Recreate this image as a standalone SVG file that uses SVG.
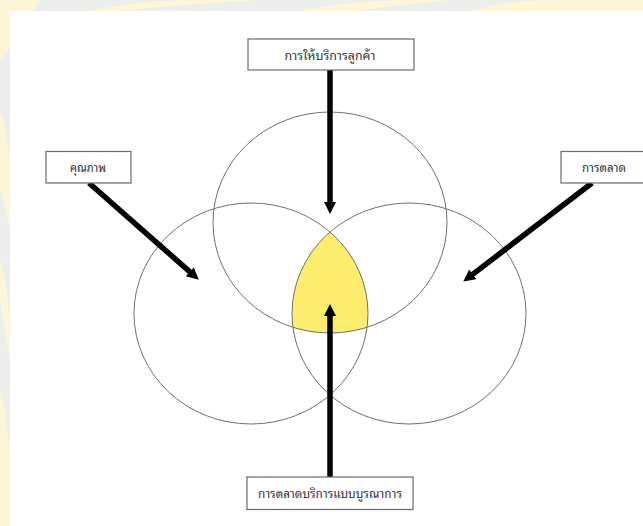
<svg xmlns="http://www.w3.org/2000/svg" width="643" height="526" viewBox="0 0 643 526">
  <style>
    .box { fill: #ffffff; stroke: #6b6b6b; stroke-width: 1.2; }
    .ring { fill: none; stroke: #707070; stroke-width: 1; }
    .lbl { font-family: "Noto Sans Thai Looped", "Noto Serif Thai", "Loma", "Garuda", "Noto Sans Thai", "Noto Sans", "DejaVu Sans", sans-serif; font-size: 12px; fill: #333333; text-anchor: middle; dominant-baseline: central; }
    .arrow { stroke: #000000; stroke-width: 5.5; fill: none; marker-end: url(#head); }
  </style>
  <defs>
    <marker id="head" markerUnits="userSpaceOnUse" markerWidth="14" markerHeight="14" refX="1" refY="6" orient="auto">
      <path d="M0,0 L12,6 L0,12 z" fill="#000000"/>
    </marker>
    <clipPath id="clipL"><ellipse cx="251" cy="313.5" rx="117" ry="110.5"/></clipPath>
    <clipPath id="clipR"><ellipse cx="409" cy="313.5" rx="117" ry="110.5"/></clipPath>
  </defs>

  <!-- background with faint watermark frame -->
  <rect x="0" y="0" width="643" height="526" fill="#eceeec"/>
  <g fill="#fdf6d6">
    <path d="M0,0 H40 Q20,30 0,60 Z"/>
    <path d="M90,11 Q140,0 200,0 H260 Q180,4 120,11 Z"/>
    <path d="M300,11 Q360,-2 450,0 Q400,4 360,11 Z"/>
    <path d="M470,11 Q510,0 560,0 H643 V11 Z"/>
    <path d="M0,110 Q10,140 10,170 V230 Q4,200 0,190 Z"/>
    <path d="M0,260 Q10,300 10,330 V360 Q3,320 0,300 Z"/>
    <path d="M0,390 Q10,430 10,470 V526 H0 Z"/>
  </g>
  <rect x="10" y="11" width="633" height="515" fill="#ffffff"/>

  <!-- yellow intersection -->
  <g id="intersection" clip-path="url(#clipR)">
    <g clip-path="url(#clipL)">
      <ellipse cx="330" cy="222.5" rx="117" ry="110.5" fill="#fcee6c"/>
    </g>
  </g>

  <!-- circles -->
  <g id="circle-top"><ellipse class="ring" cx="330" cy="222.5" rx="117" ry="110.5"/></g>
  <g id="circle-left"><ellipse class="ring" cx="251" cy="313.5" rx="117" ry="110.5"/></g>
  <g id="circle-right"><ellipse class="ring" cx="409" cy="313.5" rx="117" ry="110.5"/></g>

  <!-- connectors -->
  <g id="connectors">
    <line class="arrow" x1="330" y1="70" x2="330" y2="203"/>
    <line class="arrow" x1="330" y1="477" x2="330" y2="315"/>
    <line class="arrow" x1="89" y1="183" x2="190.5" y2="272.4"/>
    <line class="arrow" x1="592" y1="183" x2="472" y2="274.9"/>
  </g>

  <!-- nodes -->
  <g id="node-service">
    <rect class="box" x="248" y="39" width="166" height="31"/>
    <text class="lbl" x="330" y="54" textLength="91" lengthAdjust="spacingAndGlyphs">การให้บริการลูกค้า</text>
  </g>
  <g id="node-quality">
    <rect class="box" x="46" y="151.5" width="85" height="31.5"/>
    <text class="lbl" x="88" y="166.5" textLength="36" lengthAdjust="spacingAndGlyphs">คุณภาพ</text>
  </g>
  <g id="node-marketing">
    <rect class="box" x="561" y="151.5" width="90" height="31.5"/>
    <text class="lbl" x="604" y="166.5" textLength="44" lengthAdjust="spacingAndGlyphs">การตลาด</text>
  </g>
  <g id="node-integrated">
    <rect class="box" x="247" y="477" width="166" height="32.5"/>
    <text class="lbl" x="330" y="492.5" textLength="144" lengthAdjust="spacingAndGlyphs">การตลาดบริการแบบบูรณาการ</text>
  </g>
</svg>
